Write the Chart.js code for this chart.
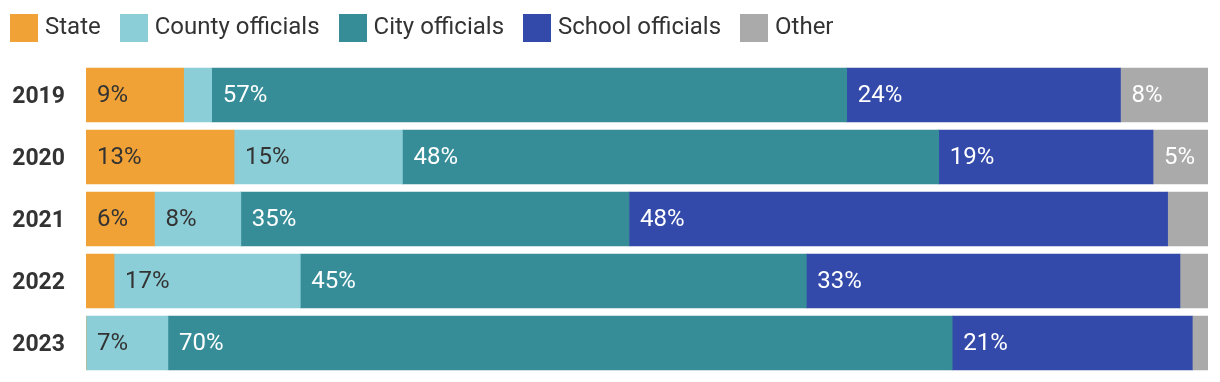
<!DOCTYPE html>
<html>
<head>
<meta charset="utf-8">
<script src="https://cdn.jsdelivr.net/npm/chart.js@4"></script>
<style>
  html, body { margin: 0; padding: 0; background: #fff; }
  #wrap { position: relative; width: 1220px; height: 382px; }
  #legend {
    position: absolute; left: 10px; top: 14px; height: 28px;
    display: flex; align-items: center; gap: 19px;
    font-family: Roboto, sans-serif; font-size: 24px; color: #333;
  }
  .item { display: flex; align-items: center; gap: 7px; }
  .item span { position: relative; top: -2px; }
  .box { width: 28px; height: 28px; }
</style>
</head>
<body>
<div id="wrap">
  <canvas id="chart" width="1220" height="382"></canvas>
  <div id="legend"></div>
</div>
<script>
// ----------------- DATA -----------------

const years = ['2019', '2020', '2021', '2022', '2023'];
const seriesNames = ['State', 'County officials', 'City officials', 'School officials', 'Other'];
const seriesColors = ['#F0A236', '#8BCED7', '#368D98', '#344AAA', '#AAAAAA'];
const labelColors = ['#333333', '#333333', '#ffffff', '#ffffff', '#ffffff'];

const state = [8.7, 13.2, 6.1, 2.5, 0];
const county = [2.5, 15.0, 7.7, 16.6, 7.3];
const city = [56.6, 47.8, 34.6, 45.1, 69.9];
const school = [24.4, 19.1, 48.0, 33.3, 21.4];
const other = [7.8, 4.9, 3.6, 2.5, 1.4];

const seriesValues = [state, county, city, school, other];

// ----------------- LEGEND -----------------

const legendEl = document.getElementById('legend');
seriesNames.forEach((name, i) => {
    const item = document.createElement('div');
    item.className = 'item';
    item.innerHTML = '<div class="box" style="background:' + seriesColors[i] + '"></div><span>' + name + '</span>';
    legendEl.appendChild(item);
});

// ----------------- LABELS INSIDE BARS -----------------

const barLabels = {
    id: 'barLabels',
    afterDatasetsDraw(chart) {
        const ctx = chart.ctx;
        ctx.save();
        ctx.font = '24px Roboto, sans-serif';
        ctx.textAlign = 'left';
        ctx.textBaseline = 'middle';
        chart.data.datasets.forEach((ds, i) => {
            const meta = chart.getDatasetMeta(i);
            meta.data.forEach((bar, j) => {
                const v = ds.data[j];
                if (v < 4.5) return;
                const p = bar.getProps(['x', 'y', 'base'], true);
                ctx.fillStyle = labelColors[i];
                ctx.fillText(Math.round(v) + '%', Math.min(p.x, p.base) + 11, p.y + 1);
            });
        });
        ctx.restore();
    }
};

// ----------------- CHART -----------------

const ctx_chart = document.getElementById('chart').getContext('2d');
const chart = new Chart(ctx_chart, {
    type: 'bar',
    data: {
        labels: years,
        datasets: seriesNames.map((name, i) => ({
            label: name,
            data: seriesValues[i],
            backgroundColor: seriesColors[i],
            borderWidth: 0,
            barThickness: 54
        }))
    },
    options: {
        indexAxis: 'y',
        responsive: false,
        animation: false,
        layout: { padding: { top: 64, right: 12, bottom: 8, left: 0 } },
        plugins: {
            legend: { display: false },
            tooltip: { enabled: false }
        },
        scales: {
            x: {
                stacked: true,
                display: false,
                min: 0,
                max: 100
            },
            y: {
                stacked: true,
                grid: { display: false, drawTicks: false },
                border: { display: false },
                ticks: {
                    padding: 21,
                    labelOffset: 2,
                    color: '#333',
                    font: { family: 'Roboto, sans-serif', size: 23, weight: 'bold' }
                },
                afterFit(scale) {
                    scale.width = 86;
                    scale.paddingTop = 0;
                    scale.paddingBottom = 0;
                }
            }
        }
    },
    plugins: [barLabels]
});
</script>
</body>
</html>
